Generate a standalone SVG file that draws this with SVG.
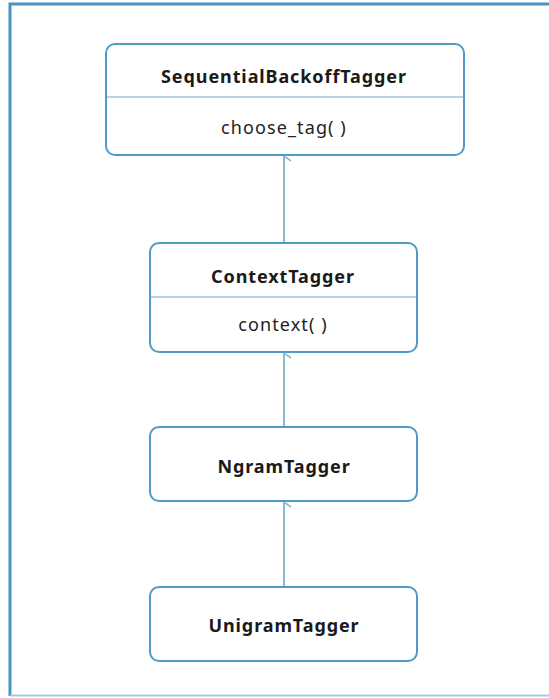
<svg xmlns="http://www.w3.org/2000/svg" width="549" height="698" viewBox="0 0 549 698">
<defs>
<style>
.box{fill:#fff;stroke:#4f9bc8;stroke-width:2}
.div{stroke:#6aaad2;stroke-width:1.2}
.t{font-family:"Noto Sans","Open Sans",sans-serif;font-size:18px;font-weight:bold;fill:#1a1a1a;text-anchor:middle;letter-spacing:0.9px}
.m{font-family:"Noto Sans","Open Sans",sans-serif;font-size:18px;fill:#222;text-anchor:middle;letter-spacing:1.1px}
.c{stroke:#8fb9d6;stroke-width:2;fill:none}
</style>
<marker id="arr" viewBox="0 0 12 10" refX="6" refY="1" markerWidth="12" markerHeight="10" markerUnits="userSpaceOnUse" orient="auto-start-reverse">
<path d="M1,8 L6,1 L11,8" fill="none" stroke="#8fb9d6" stroke-width="1.6"/>
</marker>
</defs>
<rect x="0" y="0" width="549" height="698" fill="#fff"/>
<path d="M10,696 L10,4 L549,4" fill="none" stroke="#4596c4" stroke-width="3"/>
<line x1="10" y1="695.5" x2="549" y2="695.5" stroke="#9fcbe3" stroke-width="2"/>
<g id="connectors">
<line class="c" x1="284" y1="243" x2="284" y2="156" marker-end="url(#arr)"/>
<line class="c" x1="284" y1="427" x2="284" y2="353" marker-end="url(#arr)"/>
<line class="c" x1="284" y1="587" x2="284" y2="502" marker-end="url(#arr)"/>
</g>
<g id="SequentialBackoffTagger">
<rect class="box" x="106" y="44" width="358" height="111" rx="9"/>
<line class="div" x1="107" y1="97" x2="463" y2="97"/>
<text class="t" x="284" y="83">SequentialBackoffTagger</text>
<text class="m" x="284" y="134">choose_tag( )</text>
</g>
<g id="ContextTagger">
<rect class="box" x="150" y="243" width="267" height="109" rx="9"/>
<line class="div" x1="151" y1="297" x2="416" y2="297"/>
<text class="t" x="283" y="283">ContextTagger</text>
<text class="m" x="283" y="331">context( )</text>
</g>
<g id="NgramTagger">
<rect class="box" x="150" y="427" width="267" height="74" rx="9"/>
<text class="t" x="284" y="473">NgramTagger</text>
</g>
<g id="UnigramTagger">
<rect class="box" x="150" y="587" width="267" height="74" rx="9"/>
<text class="t" x="284" y="632">UnigramTagger</text>
</g>
</svg>
